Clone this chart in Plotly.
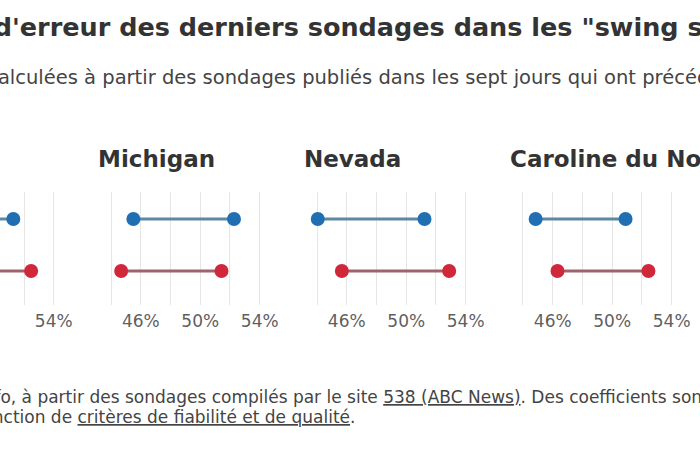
import plotly.graph_objects as go

# ---------------- data ----------------
STATES = ["Géorgie", "Michigan", "Nevada", "Caroline du Nord"]
HARRIS_LOW = [44.6, 45.5, 44.05, 44.85]
HARRIS_HIGH = [51.28, 52.27, 51.23, 50.9]
TRUMP_LOW = [45.9, 44.68, 45.67, 46.32]
TRUMP_HIGH = [52.48, 51.43, 52.89, 52.44]
TICK_VALUES = [44, 46, 48, 50, 52, 54]
TICK_LABELS = ["", "46%", "", "50%", "", "54%"]
ROW_HARRIS = 1
ROW_TRUMP = 0

TITLE = 'Marges d\'erreur des derniers sondages dans les "swing states"'
SUBTITLE = "Marges calculées à partir des sondages publiés dans les sept jours qui ont précédé l'élection"
SOURCE_1 = ("Source : franceinfo, à partir des sondages compilés par le site "
            "<u>538 (ABC News)</u>. Des coefficients sont")
SOURCE_2 = "attribués en fonction de <u>critères de fiabilité et de qualité</u>."

# ---------------- style / layout ----------------
W, H = 700, 450
FONT = "DejaVu Sans"
BLUE_DOT, BLUE_LINE = "#1f6fb2", "#5b8aa0"
RED_DOT, RED_LINE = "#d0283a", "#a0636b"
GRID = "#e6e6e6"

SCALE = 14.95          # px per percentage point
STEP = 207.15          # px between panels
FIRST_44 = 111.7 - STEP  # px position of the 44% gridline of panel 0
X_RANGE = [43, 55]
Y_BOTTOM_PX, Y_TOP_PX = 305, 192
Y_RANGE = [-0.654, 1.519]


def py(px):
    return (H - px) / H


fig = go.Figure()
layout = dict(
    width=W, height=H,
    margin=dict(l=0, r=0, t=0, b=0),
    paper_bgcolor="white", plot_bgcolor="white",
    showlegend=False, hovermode=False,
    font=dict(family=FONT, color="#333"),
)
annotations = []

for i, state in enumerate(STATES):
    left_px = FIRST_44 + i * STEP - SCALE * (44 - X_RANGE[0])
    right_px = left_px + SCALE * (X_RANGE[1] - X_RANGE[0])
    lo = X_RANGE[0]
    show_title = True
    if left_px < 0:
        lo = X_RANGE[0] + (-left_px) / SCALE
        left_px = 0
        show_title = False
    sfx = "" if i == 0 else str(i + 1)
    xa, ya = "x" + sfx, "y" + sfx
    layout["xaxis" + sfx] = dict(
        domain=[left_px / W, right_px / W], range=[lo, X_RANGE[1]],
        anchor=ya, tickvals=TICK_VALUES, ticktext=TICK_LABELS,
        showgrid=True, gridcolor=GRID, gridwidth=1, zeroline=False,
        showline=False, ticks="", ticklabelstandoff=4,
        tickfont=dict(family=FONT, size=17, color="#5f5f5f"), fixedrange=True,
    )
    layout["yaxis" + sfx] = dict(
        domain=[py(Y_BOTTOM_PX), py(Y_TOP_PX)], range=Y_RANGE, anchor=xa,
        showgrid=False, zeroline=False, showticklabels=False, showline=False,
        fixedrange=True,
    )
    fig.add_trace(go.Scatter(
        x=[HARRIS_LOW[i], HARRIS_HIGH[i]], y=[ROW_HARRIS, ROW_HARRIS],
        xaxis=xa, yaxis=ya, mode="lines+markers",
        line=dict(color=BLUE_LINE, width=3),
        marker=dict(color=BLUE_DOT, size=14), cliponaxis=True,
    ))
    fig.add_trace(go.Scatter(
        x=[TRUMP_LOW[i], TRUMP_HIGH[i]], y=[ROW_TRUMP, ROW_TRUMP],
        xaxis=xa, yaxis=ya, mode="lines+markers",
        line=dict(color=RED_LINE, width=3),
        marker=dict(color=RED_DOT, size=14), cliponaxis=True,
    ))
    if show_title:
        annotations.append(dict(
            text=state, xref="paper", yref="paper", x=left_px / W, y=py(159),
            xanchor="left", yanchor="middle", showarrow=False,
            font=dict(family=FONT, size=23, color="#333", weight="bold"),
        ))

annotations += [
    dict(text=TITLE, xref="paper", yref="paper", x=-124 / W, y=py(27),
         xanchor="left", yanchor="middle", showarrow=False,
         font=dict(family=FONT, size=25.5, color="#333", weight="bold")),
    dict(text=SUBTITLE, xref="paper", yref="paper", x=-93 / W, y=py(77),
         xanchor="left", yanchor="middle", showarrow=False,
         font=dict(family=FONT, size=19.5, color="#444")),
    dict(text=SOURCE_1, xref="paper", yref="paper", x=-153 / W, y=py(397),
         xanchor="left", yanchor="middle", showarrow=False,
         font=dict(family=FONT, size=17, color="#444")),
    dict(text=SOURCE_2, xref="paper", yref="paper", x=-135 / W, y=py(417),
         xanchor="left", yanchor="middle", showarrow=False,
         font=dict(family=FONT, size=17, color="#444")),
]
layout["annotations"] = annotations
fig.update_layout(**layout)
fig.write_html("out.html", config={"displayModeBar": False, "staticPlot": True})
